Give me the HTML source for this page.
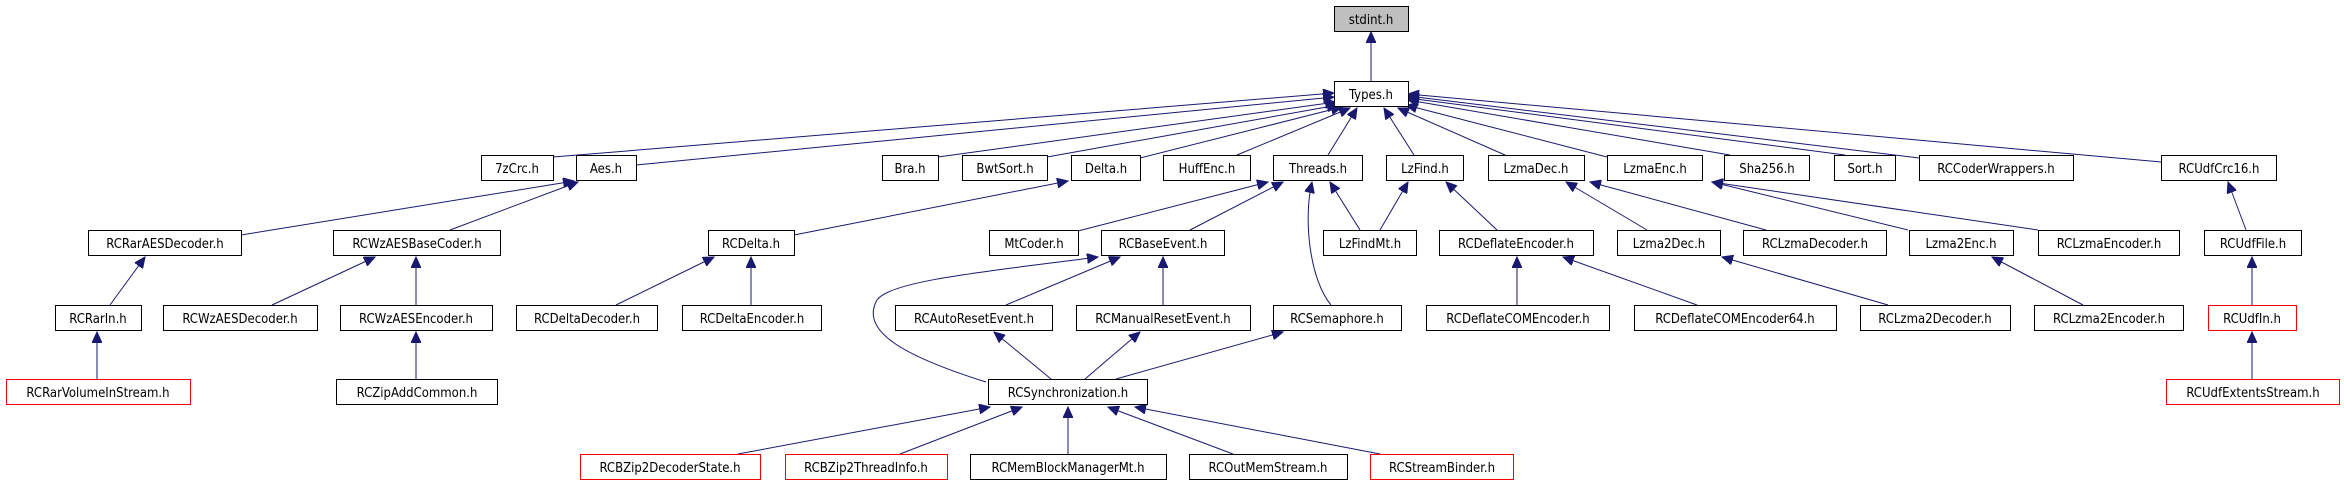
<!DOCTYPE html>
<html><head><meta charset="utf-8"><style>
html,body{margin:0;padding:0;background:#fff;}
svg{display:block}
text{font-family:"DejaVu Sans Condensed","Liberation Sans",sans-serif;font-size:13px;fill:#000;}
.b rect{fill:#fff;stroke:#000;stroke-width:1}
.r rect{fill:#fff;stroke:#f00;stroke-width:1}
.e{stroke:#191970;stroke-width:1;fill:none}
</style></head><body>
<svg width="2344" height="485" viewBox="0 0 2344 485" xmlns="http://www.w3.org/2000/svg">
<defs><marker id="a" markerUnits="userSpaceOnUse" markerWidth="12" markerHeight="10" refX="11" refY="5" orient="auto"><path d="M0,0L11,5L0,10z" fill="#191970" stroke="#191970"/></marker></defs>
<g class="e" marker-end="url(#a)">
<line x1="1371" y1="81" x2="1371" y2="32"/>
<line x1="553" y1="157" x2="1334" y2="93"/>
<line x1="636" y1="165" x2="1334" y2="97"/>
<line x1="938" y1="157" x2="1336" y2="102"/>
<line x1="1047" y1="157" x2="1338" y2="105"/>
<line x1="1140" y1="158" x2="1342" y2="107"/>
<line x1="1237" y1="155" x2="1350" y2="108"/>
<line x1="1328" y1="155" x2="1357" y2="108"/>
<line x1="1414" y1="155" x2="1384" y2="108"/>
<line x1="1505" y1="155" x2="1398" y2="108"/>
<line x1="1607" y1="157" x2="1406" y2="105"/>
<line x1="1730" y1="155" x2="1408" y2="100"/>
<line x1="1845" y1="155" x2="1408" y2="98"/>
<line x1="1919" y1="158" x2="1408" y2="96"/>
<line x1="2161" y1="162" x2="1408" y2="94"/>
<line x1="241" y1="235" x2="574" y2="181"/>
<line x1="450" y1="230" x2="578" y2="182"/>
<line x1="110" y1="305" x2="145" y2="257"/>
<line x1="97" y1="379" x2="97" y2="332"/>
<line x1="272" y1="305" x2="375" y2="257"/>
<line x1="416" y1="305" x2="416" y2="257"/>
<line x1="416" y1="379" x2="416" y2="332"/>
<line x1="794" y1="235" x2="1068" y2="181"/>
<line x1="616" y1="305" x2="714" y2="257"/>
<line x1="751" y1="305" x2="751" y2="257"/>
<line x1="1078" y1="231" x2="1268" y2="182"/>
<line x1="1190" y1="230" x2="1283" y2="182"/>
<line x1="1360" y1="230" x2="1330" y2="182"/>
<path d="M1331,305 C1310,280 1303,220 1312,182"/>
<line x1="1380" y1="230" x2="1408" y2="182"/>
<line x1="1497" y1="230" x2="1446" y2="182"/>
<line x1="1647" y1="230" x2="1566" y2="182"/>
<line x1="1766" y1="230" x2="1590" y2="182"/>
<line x1="1908" y1="230" x2="1712" y2="182"/>
<line x1="2038" y1="230" x2="1712" y2="182"/>
<line x1="1888" y1="305" x2="1722" y2="257"/>
<line x1="2083" y1="305" x2="1992" y2="257"/>
<line x1="1517" y1="305" x2="1517" y2="257"/>
<line x1="1697" y1="305" x2="1563" y2="257"/>
<line x1="2246" y1="230" x2="2228" y2="182"/>
<line x1="2252" y1="305" x2="2252" y2="257"/>
<line x1="2252" y1="379" x2="2252" y2="332"/>
<line x1="1006" y1="305" x2="1120" y2="257"/>
<line x1="1163" y1="305" x2="1163" y2="257"/>
<path d="M986,382 C900,355 860,330 877,300 C890,280 1000,270 1098,257"/>
<line x1="1051" y1="379" x2="994" y2="332"/>
<line x1="1085" y1="379" x2="1140" y2="332"/>
<line x1="1116" y1="379" x2="1283" y2="332"/>
<line x1="738" y1="454" x2="990" y2="407"/>
<line x1="900" y1="454" x2="1022" y2="407"/>
<line x1="1068" y1="454" x2="1068" y2="407"/>
<line x1="1233" y1="454" x2="1108" y2="407"/>
<line x1="1380" y1="454" x2="1135" y2="407"/>
</g>
<g text-anchor="middle">
<g class="b"><rect x="1334.5" y="6.5" width="74" height="25" style="fill:#bfbfbf"/><text x="1371" y="24">stdint.h</text></g>
<g class="b"><rect x="1334.5" y="81.5" width="74" height="25"/><text x="1371" y="99">Types.h</text></g>

<g class="b"><rect x="481.5" y="155.5" width="72" height="25"/><text x="517" y="173">7zCrc.h</text></g>
<g class="b"><rect x="576.5" y="155.5" width="60" height="25"/><text x="606" y="173">Aes.h</text></g>
<g class="b"><rect x="882.5" y="155.5" width="56" height="25"/><text x="910" y="173">Bra.h</text></g>
<g class="b"><rect x="962.5" y="155.5" width="85" height="25"/><text x="1005" y="173">BwtSort.h</text></g>
<g class="b"><rect x="1071.5" y="155.5" width="69" height="25"/><text x="1106" y="173">Delta.h</text></g>
<g class="b"><rect x="1163.5" y="155.5" width="87" height="25"/><text x="1207" y="173">HuffEnc.h</text></g>
<g class="b"><rect x="1273.5" y="155.5" width="89" height="25"/><text x="1318" y="173">Threads.h</text></g>
<g class="b"><rect x="1386.5" y="155.5" width="77" height="25"/><text x="1425" y="173">LzFind.h</text></g>
<g class="b"><rect x="1488.5" y="155.5" width="96" height="25"/><text x="1536" y="173">LzmaDec.h</text></g>
<g class="b"><rect x="1607.5" y="155.5" width="95" height="25"/><text x="1655" y="173">LzmaEnc.h</text></g>
<g class="b"><rect x="1724.5" y="155.5" width="85" height="25"/><text x="1767" y="173">Sha256.h</text></g>
<g class="b"><rect x="1834.5" y="155.5" width="61" height="25"/><text x="1865" y="173">Sort.h</text></g>
<g class="b"><rect x="1919.5" y="155.5" width="154" height="25"/><text x="1996" y="173">RCCoderWrappers.h</text></g>
<g class="b"><rect x="2161.5" y="155.5" width="115" height="25"/><text x="2219" y="173">RCUdfCrc16.h</text></g>

<g class="b"><rect x="88.5" y="230.5" width="153" height="25"/><text x="165" y="248">RCRarAESDecoder.h</text></g>
<g class="b"><rect x="333.5" y="230.5" width="167" height="25"/><text x="417" y="248">RCWzAESBaseCoder.h</text></g>
<g class="b"><rect x="708.5" y="230.5" width="86" height="25"/><text x="751" y="248">RCDelta.h</text></g>
<g class="b"><rect x="989.5" y="230.5" width="89" height="25"/><text x="1034" y="248">MtCoder.h</text></g>
<g class="b"><rect x="1101.5" y="230.5" width="123" height="25"/><text x="1163" y="248">RCBaseEvent.h</text></g>
<g class="b"><rect x="1323.5" y="230.5" width="93" height="25"/><text x="1370" y="248">LzFindMt.h</text></g>
<g class="b"><rect x="1439.5" y="230.5" width="154" height="25"/><text x="1516" y="248">RCDeflateEncoder.h</text></g>
<g class="b"><rect x="1617.5" y="230.5" width="103" height="25"/><text x="1669" y="248">Lzma2Dec.h</text></g>
<g class="b"><rect x="1743.5" y="230.5" width="143" height="25"/><text x="1815" y="248">RCLzmaDecoder.h</text></g>
<g class="b"><rect x="1909.5" y="230.5" width="104" height="25"/><text x="1961" y="248">Lzma2Enc.h</text></g>
<g class="b"><rect x="2038.5" y="230.5" width="141" height="25"/><text x="2109" y="248">RCLzmaEncoder.h</text></g>
<g class="b"><rect x="2204.5" y="230.5" width="97" height="25"/><text x="2253" y="248">RCUdfFile.h</text></g>

<g class="b"><rect x="55.5" y="305.5" width="86" height="25"/><text x="98" y="323">RCRarIn.h</text></g>
<g class="b"><rect x="163.5" y="305.5" width="154" height="25"/><text x="240" y="323">RCWzAESDecoder.h</text></g>
<g class="b"><rect x="340.5" y="305.5" width="152" height="25"/><text x="416" y="323">RCWzAESEncoder.h</text></g>
<g class="b"><rect x="516.5" y="305.5" width="141" height="25"/><text x="587" y="323">RCDeltaDecoder.h</text></g>
<g class="b"><rect x="682.5" y="305.5" width="139" height="25"/><text x="752" y="323">RCDeltaEncoder.h</text></g>
<g class="b"><rect x="895.5" y="305.5" width="157" height="25"/><text x="974" y="323">RCAutoResetEvent.h</text></g>
<g class="b"><rect x="1076.5" y="305.5" width="174" height="25"/><text x="1163" y="323">RCManualResetEvent.h</text></g>
<g class="b"><rect x="1273.5" y="305.5" width="128" height="25"/><text x="1337" y="323">RCSemaphore.h</text></g>
<g class="b"><rect x="1426.5" y="305.5" width="183" height="25"/><text x="1518" y="323">RCDeflateCOMEncoder.h</text></g>
<g class="b"><rect x="1634.5" y="305.5" width="202" height="25"/><text x="1735" y="323">RCDeflateCOMEncoder64.h</text></g>
<g class="b"><rect x="1860.5" y="305.5" width="150" height="25"/><text x="1935" y="323">RCLzma2Decoder.h</text></g>
<g class="b"><rect x="2034.5" y="305.5" width="149" height="25"/><text x="2109" y="323">RCLzma2Encoder.h</text></g>
<g class="r"><rect x="2208.5" y="305.5" width="88" height="25"/><text x="2252" y="323">RCUdfIn.h</text></g>

<g class="r"><rect x="6.5" y="379.5" width="184" height="25"/><text x="98" y="397">RCRarVolumeInStream.h</text></g>
<g class="b"><rect x="336.5" y="379.5" width="161" height="25"/><text x="417" y="397">RCZipAddCommon.h</text></g>
<g class="b"><rect x="988.5" y="379.5" width="159" height="25"/><text x="1068" y="397">RCSynchronization.h</text></g>
<g class="r"><rect x="2166.5" y="379.5" width="173" height="25"/><text x="2253" y="397">RCUdfExtentsStream.h</text></g>

<g class="r"><rect x="580.5" y="454.5" width="180" height="25"/><text x="670" y="472">RCBZip2DecoderState.h</text></g>
<g class="r"><rect x="785.5" y="454.5" width="162" height="25"/><text x="866" y="472">RCBZip2ThreadInfo.h</text></g>
<g class="b"><rect x="970.5" y="454.5" width="196" height="25"/><text x="1068" y="472">RCMemBlockManagerMt.h</text></g>
<g class="b"><rect x="1189.5" y="454.5" width="158" height="25"/><text x="1268" y="472">RCOutMemStream.h</text></g>
<g class="r"><rect x="1370.5" y="454.5" width="143" height="25"/><text x="1442" y="472">RCStreamBinder.h</text></g>
</g>
</svg>
</body></html>
